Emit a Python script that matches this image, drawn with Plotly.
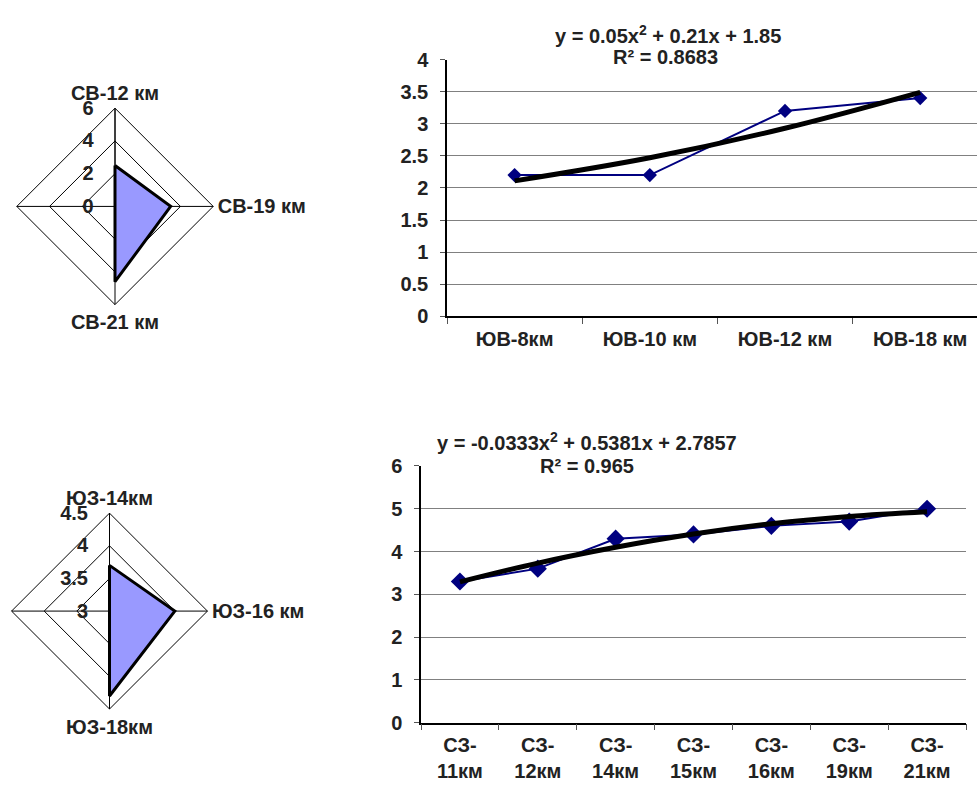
import plotly.graph_objects as go

# ---------------- data ----------------
ne_cats = ["СВ-12 км", "СВ-19 км", "СВ-21 км", " "]
ne_vals = [2.5, 3.4, 4.6, 0]

sw_cats = ["ЮЗ-14км", "ЮЗ-16 км", "ЮЗ-18км", " "]
sw_vals = [3.7, 4.0, 4.3, 3.0]

se_cats = ["ЮВ-8км", "ЮВ-10 км", "ЮВ-12 км", "ЮВ-18 км"]
se_vals = [2.2, 2.2, 3.2, 3.4]
se_trend = [2.11, 2.47, 2.93, 3.49]
se_eq = "y = 0.05x<sup>2</sup> + 0.21x + 1.85"
se_r2 = "R² = 0.8683"

nw_cats = ["СЗ-<br>11км", "СЗ-<br>12км", "СЗ-<br>14км", "СЗ-<br>15км",
           "СЗ-<br>16км", "СЗ-<br>19км", "СЗ-<br>21км"]
nw_vals = [3.3, 3.6, 4.3, 4.4, 4.6, 4.7, 5.0]
nw_trend = [3.29, 3.73, 4.10, 4.41, 4.65, 4.82, 4.93]
nw_eq = "y = -0.0333x<sup>2</sup> + 0.5381x + 2.7857"
nw_r2 = "R² = 0.965"

FONT = "Liberation Sans"
TXT = "#222222"
W, H = 977, 791

def px_x(x):
    return x / W

def px_y(y):
    return 1 - y / H

fig = go.Figure()

# ---------------- radar charts ----------------
fig.add_trace(go.Scatterpolar(
    r=ne_vals + ne_vals[:1], theta=ne_cats + ne_cats[:1],
    fill="toself", fillcolor="#9999FF",
    line=dict(color="black", width=3), mode="lines",
    subplot="polar", showlegend=False))
fig.add_trace(go.Scatterpolar(
    r=sw_vals + sw_vals[:1], theta=sw_cats + sw_cats[:1],
    fill="toself", fillcolor="#9999FF",
    line=dict(color="black", width=3), mode="lines",
    subplot="polar2", showlegend=False))

def polar_layout(dom_x, dom_y, rng, dtick):
    return dict(
        domain=dict(x=dom_x, y=dom_y),
        gridshape="linear",
        bgcolor="white",
        angularaxis=dict(
            rotation=90, direction="clockwise", type="category",
            showline=True, linecolor="black", linewidth=1,
            showgrid=True, gridcolor="black", gridwidth=1,
            ticks="", tickfont=dict(family=FONT, size=20, color=TXT, weight="bold"),
        ),
        radialaxis=dict(
            range=rng, dtick=dtick, angle=90, tickangle=90,
            showline=True, linecolor="black", linewidth=1,
            showgrid=True, gridcolor="black", gridwidth=1,
            ticks="outside", ticklen=14, tickcolor="rgba(0,0,0,0)",
            side="counterclockwise",
            tickfont=dict(family=FONT, size=20, color=TXT, weight="bold"),
        ),
    )

# ---------------- line charts ----------------
fig.add_trace(go.Scatter(
    x=se_cats, y=se_vals, mode="lines+markers",
    line=dict(color="#000080", width=2),
    marker=dict(symbol="diamond", size=11, color="#000080"),
    xaxis="x", yaxis="y", showlegend=False))
fig.add_trace(go.Scatter(
    x=se_cats, y=se_trend, mode="lines", line_shape="spline",
    line=dict(color="black", width=5),
    xaxis="x", yaxis="y", showlegend=False))

fig.add_trace(go.Scatter(
    x=nw_cats, y=nw_vals, mode="lines+markers",
    line=dict(color="#000080", width=2),
    marker=dict(symbol="diamond", size=14, color="#000080"),
    xaxis="x2", yaxis="y2", showlegend=False))
fig.add_trace(go.Scatter(
    x=nw_cats, y=nw_trend, mode="lines", line_shape="spline",
    line=dict(color="black", width=5),
    xaxis="x2", yaxis="y2", showlegend=False))

tickfont = dict(family=FONT, size=20, color=TXT, weight="bold")

def xaxis(dom, rng, anchor):
    return dict(domain=dom, range=rng, anchor=anchor, type="category",
                showline=True, linecolor="black", linewidth=1.5,
                ticks="outside", ticklen=6, tickcolor="#555",
                tickson="boundaries", showgrid=False, zeroline=False,
                ticklabelstandoff=4,
                tickfont=tickfont, fixedrange=True)

def yaxis(dom, rng, dtick, anchor):
    return dict(domain=dom, range=rng, dtick=dtick, anchor=anchor,
                showline=True, linecolor="black", linewidth=1.5,
                ticks="outside", ticklen=5, tickcolor="#555",
                showgrid=True, gridcolor="#808080", gridwidth=1,
                ticklabelstandoff=8,
                zeroline=False, tickfont=tickfont, fixedrange=True)

fig.update_layout(
    width=W, height=H,
    margin=dict(l=0, r=0, t=0, b=0),
    paper_bgcolor="white", plot_bgcolor="white",
    polar=polar_layout([px_x(14), px_x(216)], [px_y(302), px_y(100)], [0, 6], 2),
    polar2=polar_layout([px_x(8.5), px_x(210.5)], [px_y(718), px_y(516.5)], [3, 4.5], 0.5),
    xaxis=xaxis([px_x(447), 1.0], [-0.5, 3.42], "y"),
    yaxis=yaxis([px_y(314), px_y(50)], [0, 4], 0.5, "x"),
    xaxis2=xaxis([px_x(421), px_x(966)], [-0.5, 6.5], "y2"),
    yaxis2=yaxis([px_y(732), px_y(468)], [0, 6], 1, "x2"),
)

annfont = dict(family=FONT, size=20, color=TXT, weight="bold")
for txt, x, y in [(se_eq, 668, 24), (se_r2, 665, 47), (nw_eq, 587, 443), (nw_r2, 587, 468)]:
    fig.add_annotation(text=txt, x=px_x(x), y=px_y(y), xref="paper", yref="paper",
                       showarrow=False, font=annfont, xanchor="center", yanchor="middle")

fig.write_html("out.html",
               config={"displayModeBar": False},
               post_script="document.body.style.margin='0';document.body.style.overflow='hidden';")
